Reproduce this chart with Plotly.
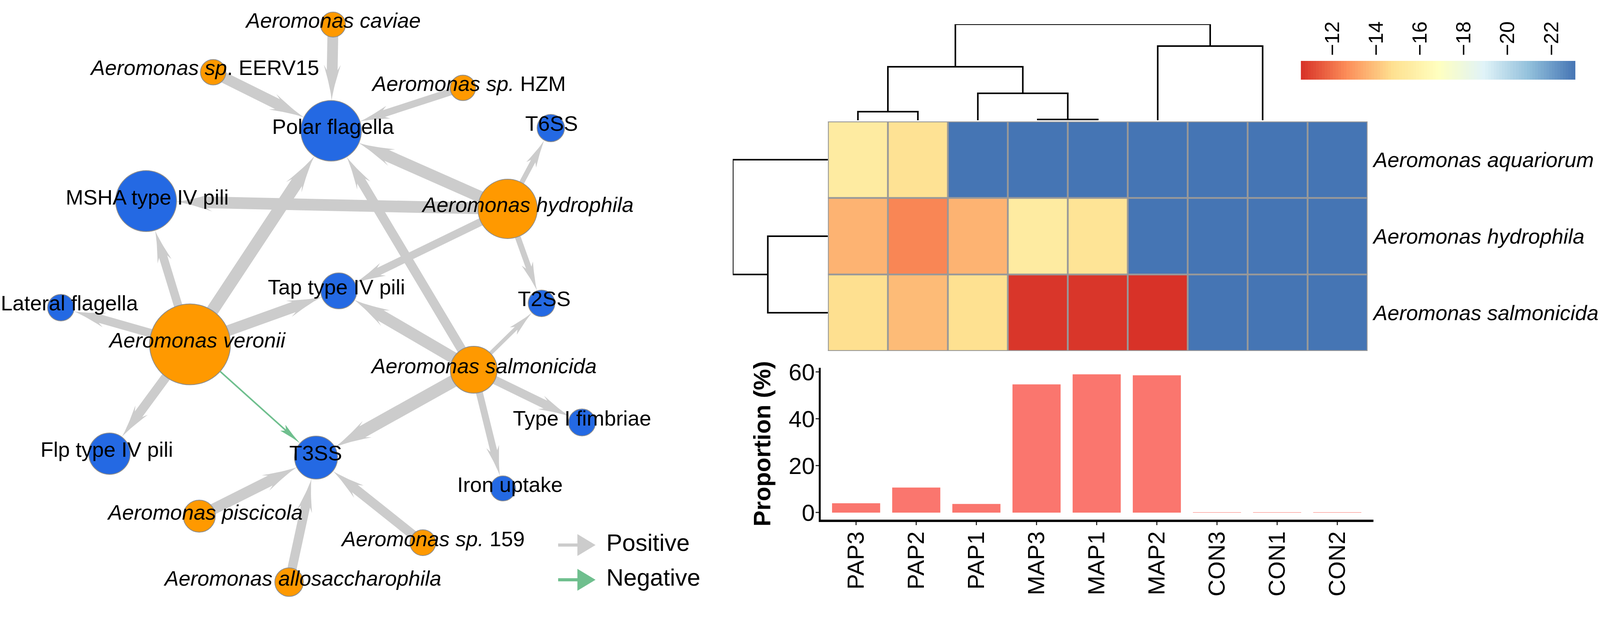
import numpy as np
import plotly.graph_objects as go

W, H = 4151, 1588
FONT = "Liberation Sans"

# ---------- network data ----------
node_names = ["caviae", "eerv15", "hzm", "polar", "t6ss", "msha", "hydrophila", "tap", "t2ss", "lateral",
              "veronii", "salmonicida", "type1", "flp", "t3ss", "iron", "piscicola", "sp159", "allo"]
node_x = [864, 553, 1201, 859, 1429, 379, 1317, 879, 1405, 158, 493, 1229, 1510, 284, 820, 1305, 517, 1097, 750]
node_y = [63, 185, 225, 335, 328, 515, 535, 745, 777, 788, 882, 947, 1082, 1162, 1172, 1251, 1322, 1390, 1491]
node_size = [64, 65, 65, 155, 70, 156, 152, 92, 68, 68, 207, 120, 69, 106, 110, 64, 82, 66, 73]
node_kind = ["sp", "sp", "sp", "fn", "fn", "fn", "sp", "fn", "fn", "fn", "sp", "sp", "fn", "fn", "fn", "fn", "sp", "sp", "sp"]
label_text = ["<i>Aeromonas caviae</i>", "<i>Aeromonas sp</i>. EERV15", "<i>Aeromonas sp.</i> HZM", "Polar flagella", "T6SS",
              "MSHA type IV pili", "<i>Aeromonas hydrophila</i>", "Tap type IV pili", "T2SS", "Lateral flagella",
              "<i>Aeromonas veronii</i>", "<i>Aeromonas salmonicida</i>", "Type I fimbriae", "Flp type IV pili", "T3SS",
              "Iron uptake", "<i>Aeromonas piscicola</i>", "<i>Aeromonas sp.</i> 159", "<i>Aeromonas allosaccharophila</i>"]
label_x = [865, 532, 1217, 864, 1431, 382, 1370, 873, 1412, 180, 512, 1256, 1510, 277, 819, 1323, 533, 1124, 786]
label_y = [57, 178, 219, 329, 321, 510, 529, 740, 770, 781, 876, 942, 1076, 1156, 1165, 1246, 1317, 1385, 1486]

edge_from = ["caviae", "eerv15", "hzm", "hydrophila", "hydrophila", "hydrophila", "hydrophila", "hydrophila",
             "veronii", "veronii", "veronii", "veronii", "veronii", "veronii",
             "salmonicida", "salmonicida", "salmonicida", "salmonicida", "salmonicida", "salmonicida",
             "piscicola", "sp159", "allo"]
edge_to = ["polar", "polar", "polar", "polar", "t6ss", "msha", "tap", "t2ss",
           "msha", "polar", "tap", "lateral", "flp", "t3ss",
           "polar", "tap", "t2ss", "t3ss", "type1", "iron",
           "t3ss", "t3ss", "t3ss"]
edge_width = [28, 28, 18, 30, 13, 30, 20, 15, 22, 32, 28, 22, 24, 4, 24, 30, 10, 32, 22, 18, 28, 24, 24]
edge_sign = ["pos"] * 13 + ["neg"] + ["pos"] * 9

legend_names = ["Positive", "Negative"]
legend_sign = ["pos", "neg"]
legend_y = [1396, 1485]
legend_x0, legend_x1 = 1448, 1545
legend_text_x = 1573

NODE_COLORS = {"sp": "#FF9900", "fn": "#2469E3"}
EDGE_COLORS = {"pos": "#CCCCCC", "neg": "#6FBF8E"}

# ---------- heatmap data ----------
samples = ["PAP3", "PAP2", "PAP1", "MAP3", "MAP1", "MAP2", "CON3", "CON1", "CON2"]
species = ["Aeromonas aquariorum", "Aeromonas hydrophila", "Aeromonas salmonicida"]
heat_aquariorum = [-15.5, -14.9, -23.09, -23.09, -23.09, -23.09, -23.09, -23.09, -23.09]
heat_hydrophila = [-13.6, -12.5, -13.6, -15.5, -15.0, -23.09, -23.09, -23.09, -23.09]
heat_salmonicida = [-14.75, -13.8, -14.8, -10.7, -10.7, -10.6, -23.09, -23.09, -23.09]
scale_low, scale_high = -23.09, -10.56
bar_ticks = [-12, -14, -16, -18, -20, -22]
palette = ["#D73027", "#FC8D59", "#FEE090", "#FFFFBF", "#E0F3F8", "#91BFDB", "#4575B4"][::-1]
colorscale = [[i / 6, c] for i, c in enumerate(palette)]

# dendrograms: (left, right, merge height); leaves are row/column indices
col_tree = (((0, 1, 22), (2, (3, 4, 2), 69), 137), (5, (6, (7, 8, 0), 0), 190), 246)
row_tree = (0, (1, 2, 156), 247)

# ---------- bar data ----------
proportion = [4.0, 10.7, 3.7, 54.7, 59.0, 58.6, 0.15, 0.15, 0.15]


def fx(px):
    return px / W


def fy(py):
    return 1 - py / H


fig = go.Figure()
idx = {n: i for i, n in enumerate(node_names)}


def poly(xs, ys, color, xa="x", ya="y"):
    fig.add_trace(go.Scatter(x=xs, y=ys, mode="lines", fill="toself", fillcolor=color,
                             line=dict(width=0, color=color), hoverinfo="skip", showlegend=False,
                             xaxis=xa, yaxis=ya))


def arrow(p0, p1, r1, w, color):
    p0, p1 = np.array(p0, float), np.array(p1, float)
    u = (p1 - p0) / np.linalg.norm(p1 - p0)
    n = np.array([-u[1], u[0]])
    tip = p1 - u * r1
    L = 55 + 1.3 * w
    hw = w / 2 + 8
    ts = np.linspace(0, 1, 12)
    side = lambda s: [tip - u * L * t + s * n * hw * t ** 1.3 for t in ts]
    notch = tip - u * L * 0.85
    pts = [p0 + n * w / 2, notch + n * w / 2] + side(1)[::-1] + side(-1) + [notch - n * w / 2, p0 - n * w / 2]
    pts = np.array(pts)
    poly(list(pts[:, 0]), list(pts[:, 1]), color)


for a, b, w, s in zip(edge_from, edge_to, edge_width, edge_sign):
    i, j = idx[a], idx[b]
    arrow((node_x[i], node_y[i]), (node_x[j], node_y[j]), node_size[j] / 2, w, EDGE_COLORS[s])

fig.add_trace(go.Scatter(x=node_x, y=node_y, mode="markers", hoverinfo="skip", showlegend=False,
                         marker=dict(size=node_size, color=[NODE_COLORS[k] for k in node_kind],
                                     line=dict(color="#8C8C8C", width=2), opacity=1)))
fig.add_trace(go.Scatter(x=label_x, y=label_y, mode="text", text=label_text, textposition="middle center",
                         textfont=dict(family=FONT, size=54, color="black"), hoverinfo="skip", showlegend=False))

# network legend
for name, s, y in zip(legend_names, legend_sign, legend_y):
    c = EDGE_COLORS[s]
    poly([legend_x0, legend_x0 + 50, legend_x0 + 50, legend_x1, legend_x0 + 50, legend_x0 + 50, legend_x0],
         [y - 4, y - 4, y - 28, y, y + 28, y + 4, y + 4], c)
fig.add_trace(go.Scatter(x=[legend_text_x] * 2, y=legend_y, mode="text", text=legend_names, textposition="middle right",
                         textfont=dict(family=FONT, size=61, color="black"), hoverinfo="skip", showlegend=False))

# heatmap
fig.add_trace(go.Heatmap(z=[heat_aquariorum, heat_hydrophila, heat_salmonicida], x=samples, y=species,
                         zmin=scale_low, zmax=scale_high, colorscale=colorscale, showscale=False,
                         hoverinfo="skip", xaxis="x2", yaxis="y2"))
grid_shapes = []
for i in range(10):
    grid_shapes.append(dict(type="line", xref="x2", yref="y2 domain", x0=i - 0.5, x1=i - 0.5, y0=0, y1=1,
                            line=dict(color="#999999", width=4.5)))
for i in range(4):
    grid_shapes.append(dict(type="line", xref="x2 domain", yref="y2", y0=i - 0.5, y1=i - 0.5, x0=0, x1=1,
                            line=dict(color="#999999", width=4.5)))


# dendrograms
def walk(node, segs):
    if not isinstance(node, tuple):
        return float(node), 0.0
    la, lh = walk(node[0], segs)
    ra, rh = walk(node[1], segs)
    h = node[2]
    if h > 0:
        segs.append(([la, la, ra, ra], [lh, h, h, rh]))
    return (la + ra) / 2, h


col_segs, row_segs = [], []
walk(col_tree, col_segs)
walk(row_tree, row_segs)
for xs, ys in col_segs:
    fig.add_trace(go.Scatter(x=xs, y=ys, mode="lines", line=dict(color="black", width=4), cliponaxis=False,
                             hoverinfo="skip", showlegend=False, xaxis="x3", yaxis="y3"))
for ys, xs in row_segs:
    fig.add_trace(go.Scatter(x=xs, y=ys, mode="lines", line=dict(color="black", width=4), cliponaxis=False,
                             hoverinfo="skip", showlegend=False, xaxis="x4", yaxis="y4"))

# bars
fig.add_trace(go.Bar(x=samples, y=proportion, marker=dict(color="#FA766E", line=dict(width=0)), width=0.8,
                     hoverinfo="skip", showlegend=False, xaxis="x5", yaxis="y5"))

# gradient key
key_values = np.linspace(scale_low, scale_high, 100)
fig.add_trace(go.Heatmap(z=[key_values], x=key_values, y=[0], zmin=scale_low, zmax=scale_high,
                         colorscale=colorscale, showscale=False, hoverinfo="skip", xaxis="x6", yaxis="y6"))

hidden = dict(visible=False, showgrid=False, zeroline=False, automargin=False)
fig.update_layout(
    margin=dict(l=0, r=0, t=0, b=0, autoexpand=False), autosize=True,
    paper_bgcolor="white", plot_bgcolor="rgba(0,0,0,0)", showlegend=False,
    font=dict(family=FONT, color="black"), shapes=grid_shapes,
    xaxis=dict(domain=[0, 1], range=[0, W], **hidden),
    yaxis=dict(domain=[0, 1], range=[H, 0], **hidden),
    xaxis2=dict(domain=[fx(2148), fx(3548)], anchor="y2", categoryorder="array", categoryarray=samples,
                range=[-0.5, 8.5], **hidden),
    yaxis2=dict(domain=[fy(899), fy(311)], anchor="x2", side="right", range=[2.5, -0.5], showgrid=False, zeroline=False,
                automargin=False, showline=False, ticks="", tickmode="array", tickvals=species,
                ticktext=[f"<i>{s}</i>" for s in species], ticklabelstandoff=14,
                tickfont=dict(family=FONT, size=54, color="black")),
    xaxis3=dict(domain=[fx(2148), fx(3548)], anchor="y3", range=[-0.5, 8.5], **hidden),
    yaxis3=dict(domain=[fy(308), fy(62)], anchor="x3", range=[0, 246], **hidden),
    xaxis4=dict(domain=[fx(1901), fx(2148)], anchor="y4", range=[247, 0], **hidden),
    yaxis4=dict(domain=[fy(899), fy(311)], anchor="x4", range=[2.5, -0.5], **hidden),
    xaxis5=dict(domain=[fx(2129), fx(3563)], anchor="y5", range=[-0.59, 8.6], showgrid=False, zeroline=False,
                automargin=False, showline=True, linecolor="black", linewidth=6, ticks="outside", ticklen=8, tickwidth=3,
                tickcolor="#333333", tickangle=-90, tickfont=dict(family=FONT, size=60, color="black"),
                ticklabelstandoff=-8, categoryorder="array", categoryarray=samples),
    yaxis5=dict(domain=[fy(1331), fy(942)], anchor="x5", range=[-3, 61.8], showgrid=False, zeroline=False,
                automargin=False, showline=True, linecolor="black", linewidth=5, ticks="outside", ticklen=8, tickwidth=3,
                tickcolor="#333333", tickvals=[0, 20, 40, 60], tickfont=dict(family=FONT, size=60, color="black"),
                ticklabelstandoff=-10,
                title=dict(text="<b>Proportion (%)</b>", font=dict(family=FONT, size=61, color="black"), standoff=28)),
    xaxis6=dict(domain=[fx(3375), fx(4087)], anchor="y6", side="top", range=[scale_high, scale_low],
                automargin=False, showgrid=False, zeroline=False, showline=False, ticks="", tickmode="array",
                tickvals=bar_ticks, tickangle=-90, tickfont=dict(family=FONT, size=52, color="black"),
                ticklabelstandoff=12),
    yaxis6=dict(domain=[fy(204), fy(156)], anchor="x6", range=[-0.5, 0.5], **hidden),
)
fig.write_html("out.html", config={"displayModeBar": False, "responsive": True},
               default_width="100vw", default_height="1588px",
               post_script="document.documentElement.style.overflow='hidden';document.body.style.margin='0';Plotly.Plots.resize(document.getElementById('{plot_id}'));")
